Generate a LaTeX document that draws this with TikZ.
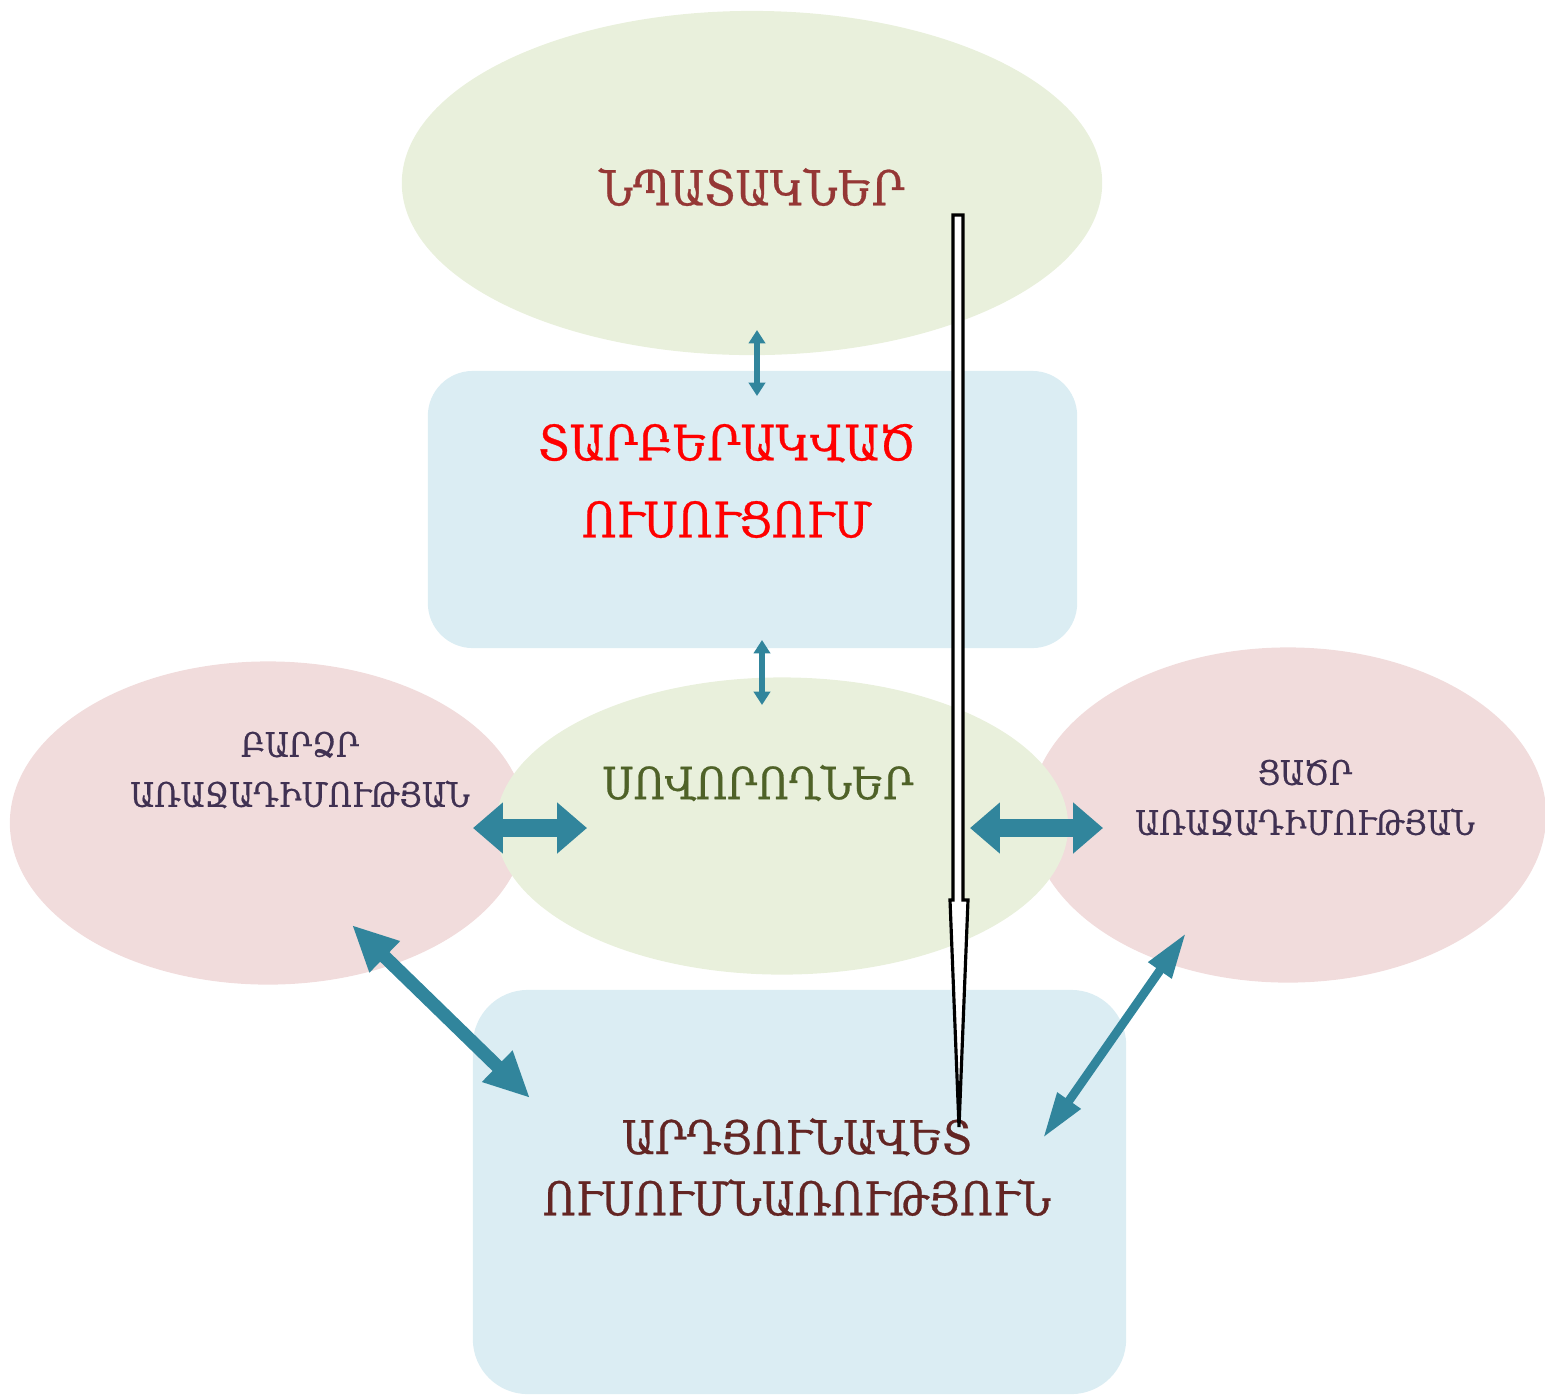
\documentclass[tikz,border=0pt]{standalone}
\usepackage{fontspec}
\setmainfont[FakeBold=0.6,FakeStretch=0.88]{DejaVu Serif}
\usetikzlibrary{shapes.geometric,arrows.meta}
\definecolor{lgreen}{HTML}{E9F0DC}
\definecolor{lblue}{HTML}{DBEDF3}
\definecolor{lpink}{HTML}{F1DCDC}
\definecolor{tealc}{HTML}{31859C}
\definecolor{goalc}{HTML}{953735}
\definecolor{highc}{HTML}{403152}
\definecolor{learnc}{HTML}{4F6228}
\definecolor{resc}{HTML}{632523}
\begin{document}
\begin{tikzpicture}[x=0.01cm,y=-0.01cm,
    blob/.style={ellipse, inner sep=0pt},
    panel/.style={rectangle, inner sep=0pt, fill=lblue},
    label/.style={align=center, inner sep=0pt},
    thin arr/.style={tealc, line width=1.8pt, {Triangle[length=3.8pt,width=4.6pt]}-{Triangle[length=3.8pt,width=4.6pt]}},
    fat arr/.style={tealc, line width=5.1pt, {Triangle[length=8.5pt,width=14pt]}-{Triangle[length=8.5pt,width=14pt]}}]
    \useasboundingbox (0,0) rectangle (1545,1396);
    % shapes
    \node[blob, fill=lgreen, minimum width=7cm, minimum height=3.44cm] (goals) at (752,183) {};
    \node[panel, rounded corners=0.45cm, minimum width=6.49cm, minimum height=2.77cm] (diffinst) at (752.5,509.5) {};
    \node[blob, fill=lpink, minimum width=5.16cm, minimum height=3.23cm] (high) at (268,823) {};
    \node[blob, fill=lpink, minimum width=5.16cm, minimum height=3.35cm] (low) at (1288,815) {};
    \node[blob, fill=lgreen, minimum width=5.72cm, minimum height=2.97cm] (learners) at (782,826) {};
    \node[panel, rounded corners=0.55cm, minimum width=6.53cm, minimum height=4.04cm] (result) at (799.5,1192) {};
    % texts
    \node[label, text=goalc, font=\fontsize{13.7}{22}\selectfont] (goalstext) at (752,187) {ՆՊԱՏԱԿՆԵՐ};
    \node[label, text=red, font=\fontsize{13.9}{21.9}\selectfont] (difftext) at (727,481) {ՏԱՐԲԵՐԱԿՎԱԾ\\ՈՒՍՈՒՑՈՒՄ};
    \node[label, text=highc, font=\fontsize{9.6}{14.2}\selectfont] (hightext) at (300,770) {ԲԱՐՁՐ\\ԱՌԱՋԱԴԻՄՈՒԹՅԱՆ};
    \node[label, text=highc, font=\fontsize{9.6}{14.2}\selectfont] (lowtext) at (1305,798) {ՑԱԾՐ\\ԱՌԱՋԱԴԻՄՈՒԹՅԱՆ};
    \node[label, text=learnc, font=\fontsize{12.6}{22}\selectfont] (learntext) at (758,783) {ՍՈՎՈՐՈՂՆԵՐ};
    \node[label, text=resc, font=\fontsize{13.2}{17.4}\selectfont] (restext) at (797,1167) {ԱՐԴՅՈՒՆԱՎԵՏ\\ՈՒՍՈՒՄՆԱՌՈՒԹՅՈՒՆ};
    % arrow ends
    \coordinate (g1) at (757,330);
    \coordinate (g2) at (757,396);
    \coordinate (d1) at (762,640);
    \coordinate (d2) at (762,705);
    \coordinate (h1) at (473,828);
    \coordinate (h2) at (587,828);
    \coordinate (l1) at (970,828);
    \coordinate (l2) at (1103,828);
    \coordinate (hr1) at (352,925);
    \coordinate (hr2) at (530,1098);
    \coordinate (lr1) at (1186,933);
    \coordinate (lr2) at (1043,1138);
    \coordinate (pstart) at (958,215);
    \coordinate (pend) at (959,1127);
    % arrows
    \draw[thin arr] (g1) -- (g2);
    \draw[thin arr] (d1) -- (d2);
    \draw[fat arr] (h1) -- (h2);
    \draw[fat arr] (l1) -- (l2);
    \draw[tealc, line width=3.8pt, {Triangle[length=13pt,width=11.5pt]}-{Triangle[length=13pt,width=11.5pt]}] (hr1) -- (hr2);
    \draw[tealc, line width=2.5pt, {Triangle[length=13pt,width=7.5pt]}-{Triangle[length=13pt,width=7.5pt]}] (lr1) -- (lr2);
    \draw[black, fill=white, line width=0.9pt, line join=miter] (pstart) ++(-5,0) -- ++(10,0) -- ++(0,685) -- ++(5,0) -- (pend) -- ++(-9,-227) -- ++(3,0) -- cycle;
\end{tikzpicture}
\end{document}
